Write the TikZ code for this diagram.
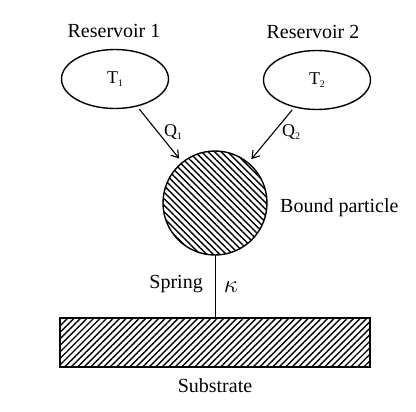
\documentclass[tikz,border=0pt]{standalone}
\usepackage{fontspec}
\setmainfont{Liberation Serif}
\usetikzlibrary{shapes.geometric,arrows.meta,patterns.meta}
\begin{document}
\begin{tikzpicture}[x=1pt,y=-1pt,
  lbl/.style={font=\fontsize{20}{24}\selectfont, inner sep=0pt},
  res/.style={draw, ellipse, line width=1.4pt, minimum width=107pt, minimum height=59pt, inner sep=0pt, outer sep=0pt, font=\fontsize{18}{21}\selectfont},
  flow/.style={line width=1.1pt, -{Straight Barb[length=7pt,width=9pt,line width=1.1pt]}, shorten <=4pt, shorten >=5pt}
]
\useasboundingbox (0,0) rectangle (416,412);

\node[lbl] (l1) at (114,31) {Reservoir 1};
\node[lbl] (l2) at (313,32) {Reservoir 2};

\node[res] (r1) at (115,79) {T\raisebox{-0.45ex}{\fontsize{10}{12}\selectfont 1}};
\node[res] (r2) at (317,80) {T\raisebox{-0.45ex}{\fontsize{10}{12}\selectfont 2}};

\node[circle, draw, line width=1.4pt, minimum size=104pt, inner sep=0pt, outer sep=0pt,
  pattern={Lines[angle=-45,distance=4.6pt,line width=1.4pt]}] (p) at (215,203) {};

\node[draw, line width=1.2pt, minimum width=310pt, minimum height=49pt, inner sep=0pt, outer sep=0pt,
  pattern={Lines[angle=45,distance=4.6pt,line width=1.4pt]}] (s) at (215,342.5) {};

\draw[flow] (r1) -- (p);
\draw[flow] (r2) -- (p);

\node[font=\fontsize{18}{21}\selectfont, inner sep=0pt] (q1) at (173,132) {Q\raisebox{-0.45ex}{\fontsize{10}{12}\selectfont 1}};
\node[font=\fontsize{18}{21}\selectfont, inner sep=0pt] (q2) at (291,132) {Q\raisebox{-0.45ex}{\fontsize{10}{12}\selectfont 2}};

\draw[line width=0.9pt] (p.south) -- (s.north -| p.south);

\node[lbl, anchor=west] (bp) at (280,208) {Bound particle};
\node[lbl, anchor=east] (sp) at (203,284) {Spring};
\node[font=\fontsize{25}{28}\selectfont, inner sep=0pt] (k) at (231,287) {$\kappa$};
\node[lbl] (st) at (215,386) {Substrate};
\end{tikzpicture}
\end{document}
